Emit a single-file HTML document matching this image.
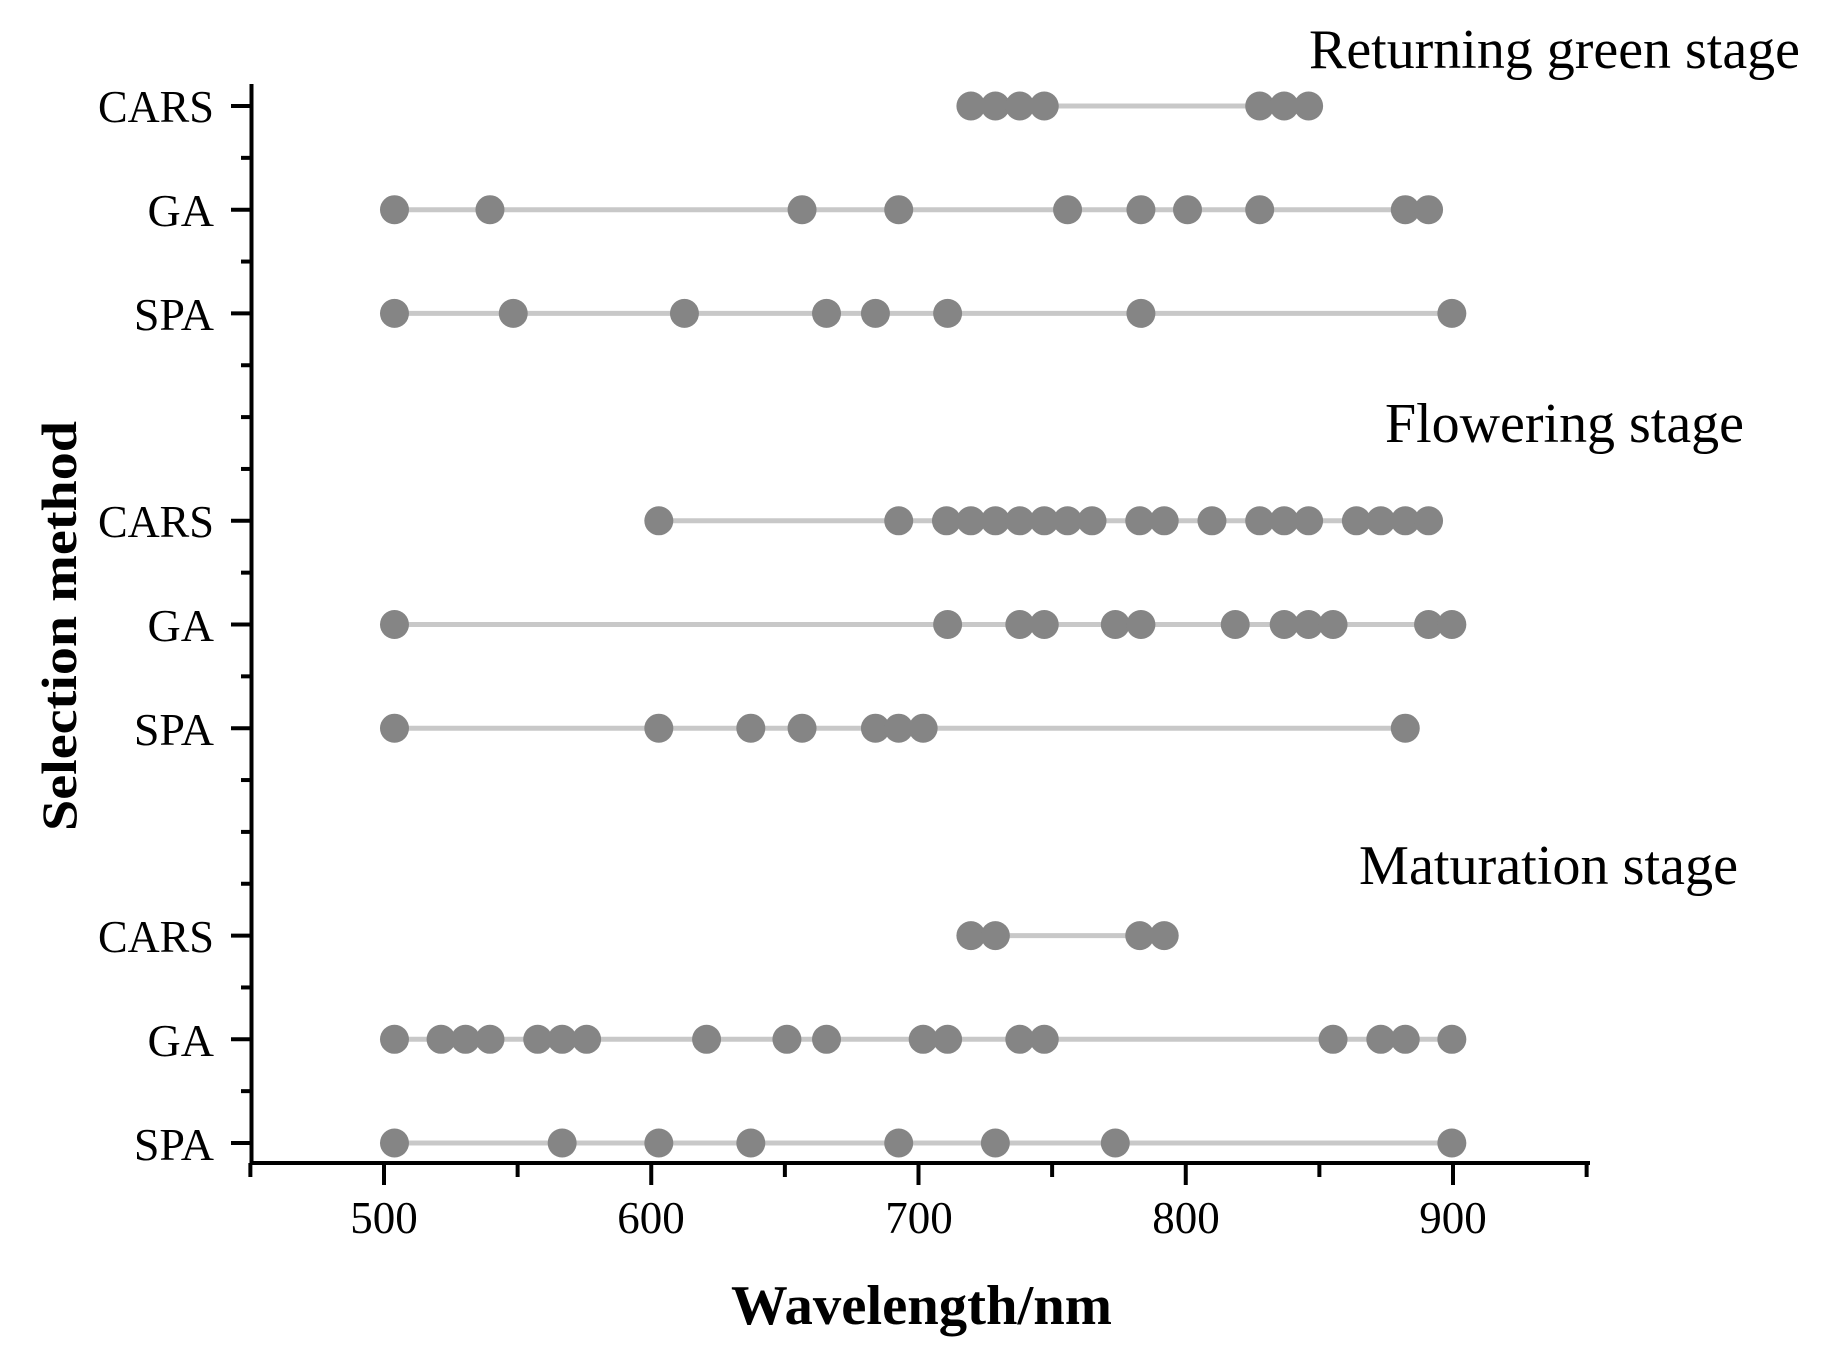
<!DOCTYPE html>
<html><head><meta charset="utf-8"><style>
html,body{margin:0;padding:0;background:#fff;}
svg{display:block;}
text{font-family:"Liberation Serif",serif;fill:#000;}
</style></head><body>
<svg id="s" width="1826" height="1360" viewBox="0 0 1826 1360" xmlns="http://www.w3.org/2000/svg">
<g id="data"></g>
<g stroke="#000" stroke-width="4" fill="none" id="axes">
<line x1="251.5" y1="84" x2="251.5" y2="1165"/>
<line x1="249.5" y1="1163" x2="1590" y2="1163"/>
</g>
<g font-size="46" text-anchor="end">
<text x="214" y="122" textLength="116" lengthAdjust="spacingAndGlyphs">CARS</text>
<text x="214" y="226">GA</text>
<text x="214" y="330">SPA</text>
<text x="214" y="537" textLength="116" lengthAdjust="spacingAndGlyphs">CARS</text>
<text x="214" y="641">GA</text>
<text x="214" y="745">SPA</text>
<text x="214" y="952" textLength="116" lengthAdjust="spacingAndGlyphs">CARS</text>
<text x="214" y="1056">GA</text>
<text x="214" y="1160">SPA</text>
</g>
<g font-size="45" text-anchor="middle">
<text x="384" y="1233">500</text>
<text x="651" y="1233">600</text>
<text x="919" y="1233">700</text>
<text x="1186" y="1233">800</text>
<text x="1453" y="1233">900</text>
</g>
<text x="731" y="1324" font-size="56" font-weight="bold" textLength="381" lengthAdjust="spacingAndGlyphs">Wavelength/nm</text>
<text transform="translate(76,626) rotate(-90)" text-anchor="middle" font-size="50" font-weight="bold" textLength="410" lengthAdjust="spacingAndGlyphs">Selection method</text>
<text x="1309" y="68" font-size="56" textLength="491" lengthAdjust="spacingAndGlyphs">Returning green stage</text>
<text x="1385" y="442" font-size="56" textLength="359" lengthAdjust="spacingAndGlyphs">Flowering stage</text>
<text x="1359" y="884" font-size="56" textLength="379" lengthAdjust="spacingAndGlyphs">Maturation stage</text>
</svg>
<script>
var NS="http://www.w3.org/2000/svg";
function el(p,t,a){var e=document.createElementNS(NS,t);for(var k in a)e.setAttribute(k,a[k]);p.appendChild(e);return e;}
var ax=document.getElementById("axes"),dg=document.getElementById("data");
function Y(k){return 106+k*103.7;}
for(var k=0;k<=10;k++){ if(k==3||k==7) el(ax,"line",{x1:241,y1:Y(k),x2:251.5,y2:Y(k)}); else el(ax,"line",{x1:231,y1:Y(k),x2:251.5,y2:Y(k)}); }
for(var k=0;k<10;k++){el(ax,"line",{x1:241,y1:Y(k+0.5),x2:251.5,y2:Y(k+0.5)});}
for(var v=450;v<=950;v+=50){var x=384+(v-500)*2.6725;el(ax,"line",{x1:x,y1:1163,x2:x,y2:(v%100==0)?1185:1177});}
var rows=[
[0,[834,855,876,897,1082,1103,1124]],
[1,[339,421,689,772,917,980,1020,1082,1207,1227]],
[2,[339,441,588,710,752,814,980,1247]],
[4,[566,772,813,834,855,876,897,917,938,979,1000,1041,1082,1103,1124,1165,1186,1207,1227]],
[5,[339,814,876,897,958,980,1061,1103,1124,1145,1227,1247]],
[6,[339,566,645,689,752,772,793,1207]],
[8,[834,855,979,1000]],
[9,[339,379,400,421,462,483,504,607,676,710,793,814,876,897,1145,1186,1207,1247]],
[10,[339,483,566,645,772,855,958,1247]]];
rows.forEach(function(r){var y=Y(r[0]);var xs=r[1].map(function(x){return 384+(x-330)*1.1645;});
el(dg,"line",{x1:xs[0],y1:y,x2:xs[xs.length-1],y2:y,stroke:"#c8c8c8","stroke-width":5});
xs.forEach(function(x){el(dg,"circle",{cx:x,cy:y,r:14.5,fill:"#858585"});});});
</script>
</body></html>
